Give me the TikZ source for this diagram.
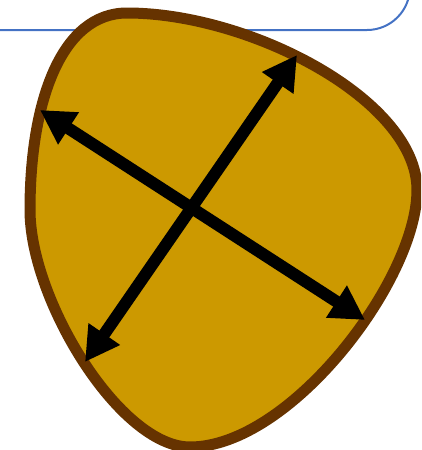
\documentclass[tikz,border=0pt]{standalone}
\usetikzlibrary{arrows.meta}
\definecolor{gold}{HTML}{CC9900}
\definecolor{rim}{HTML}{663300}
\definecolor{frameblue}{HTML}{4472C4}

\begin{document}
\begin{tikzpicture}[x=1pt,y=-1pt,
    twoway/.style={line width=12pt,{Triangle[length=34pt,width=36pt]}-{Triangle[length=34pt,width=36pt]}}]
            \useasboundingbox (0,0) rectangle (421,450);
            \clip (0,0) rectangle (421,450);
            \draw[frameblue,line width=2pt,rounded corners=43pt] (0,30) -- (410,30) -- (410,-20);
            \filldraw[fill=gold,draw=rim,line width=11pt] (127,13)
              .. controls (250,13) and (417,100) .. (417,190)
              .. controls (417,280) and (290,447) .. (190,447)
              .. controls (120,447) and (30,300) .. (30,210)
              .. controls (30,100) and (62,13) .. cycle;
            \coordinate (nw) at (40,110);
            \coordinate (se) at (365,320);
            \coordinate (ne) at (297,55);
            \coordinate (sw) at (85,362);
            \draw[twoway] (nw) -- (se);
            \draw[twoway] (ne) -- (sw);
          \end{tikzpicture}
\end{document}
